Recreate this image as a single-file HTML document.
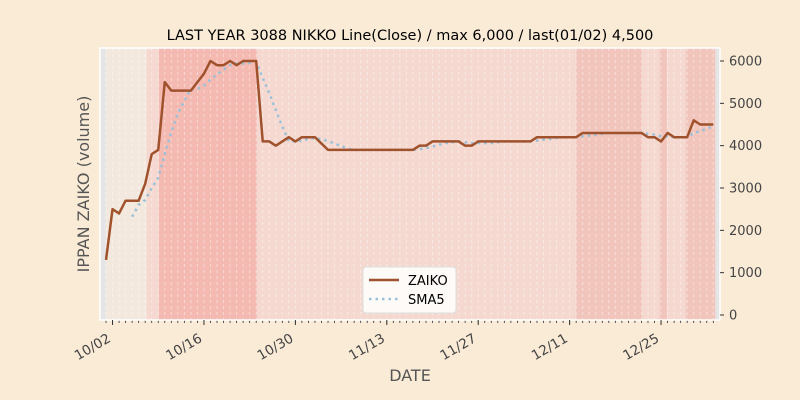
<!DOCTYPE html>
<html><head><meta charset="utf-8">
<style>
body{margin:0;background:#faebd7;}
svg{display:block;font-family:"DejaVu Sans","Liberation Sans",sans-serif;}
</style></head>
<body>
<svg id="chart" width="800" height="400" viewBox="0 0 800 400" xmlns="http://www.w3.org/2000/svg">
<rect x="0" y="0" width="800" height="400" fill="#faebd7"/>
<text x="410" y="40" text-anchor="middle" font-size="14.5" fill="#000">LAST YEAR 3088 NIKKO Line(Close) / max 6,000 / last(01/02) 4,500</text>
<g id="plot"></g>
<text x="0" y="0" transform="translate(89,184) rotate(-90)" text-anchor="middle" font-size="16" fill="#555">IPPAN ZAIKO (volume)</text>
<text x="410" y="381" text-anchor="middle" font-size="16" fill="#555">DATE</text>
<g>
<rect x="363" y="267" width="93" height="46" rx="3" fill="#fff" fill-opacity="0.85" stroke="#ddd"/>
<line x1="369" y1="280" x2="399" y2="280" stroke="#a0522d" stroke-width="2.5"/>
<text x="408" y="285" font-size="13" fill="#000">ZAIKO</text>
<line x1="369" y1="299" x2="399" y2="299" stroke="#9ac0d8" stroke-width="2.5" stroke-dasharray="2.5,4"/>
<text x="408" y="304" font-size="13" fill="#000">SMA5</text>
</g>
</svg>
<script>
const zaiko = [1300,2500,2400,2700,2700,2700,3100,3800,3900,5500,5300,5300,5300,5300,5500,5700,6000,5900,5900,6000,5900,6000,6000,6000,4100,4100,4000,4100,4200,4100,4200,4200,4200,4050,3900,3900,3900,3900,3900,3900,3900,3900,3900,3900,3900,3900,3900,3900,4000,4000,4100,4100,4100,4100,4100,4000,4000,4100,4100,4100,4100,4100,4100,4100,4100,4100,4200,4200,4200,4200,4200,4200,4200,4300,4300,4300,4300,4300,4300,4300,4300,4300,4300,4200,4200,4100,4300,4200,4200,4200,4600,4500,4500,4500];
const yTicks = [0,1000,2000,3000,4000,5000,6000];
const xTickIdx = [1,15,29,43,57,71,85];
const xTickLabels = ["10/02","10/16","10/30","11/13","11/27","12/11","12/25"];
const bandStarts = [0,6.2,8.1,23.1,72,82.1,84.8,85.9,88.8];
const bandEnds = [6.2,8.1,23.1,72,82.1,84.8,85.9,88.8,93.3];
const bandLevels = [0,1,3,1,2,1,2,1,2];

const NS="http://www.w3.org/2000/svg";
const L=100,R=720,T=48,B=320;
const x0=106, dx=6.53;
function xs(i){return x0+dx*i;}
function ys(v){return 315-(v/6000)*254;}
const plot=document.getElementById('plot');
function mk(tag,attrs,parent){const e=document.createElementNS(NS,tag);for(const k in attrs)e.setAttribute(k,attrs[k]);(parent||plot).appendChild(e);return e;}
const bandColors=["#f3e8dd","#f5d9d0","#f2c5bc","#f4b9b1"];
let e=mk('rect',{x:L,y:T,width:R-L,height:B-T,fill:'#e5e5e5'});


bandStarts.forEach((s,k)=>{
  const b=mk('rect',{x:xs(s),y:T,width:xs(bandEnds[k])-xs(s),height:B-T,fill:bandColors[bandLevels[k]]});
  
  
});
for(let i=0;i<zaiko.length;i++){
  const g=mk('line',{x1:xs(i),y1:T,x2:xs(i),y2:B,stroke:'#fff','stroke-opacity':0.45,'stroke-width':1,'stroke-dasharray':'3,3'});
  
  
  const t=mk('line',{x1:xs(i),y1:B,x2:xs(i),y2:B+3,stroke:'#333','stroke-width':0.8});
  
  
}
e=mk('rect',{x:L,y:T,width:R-L,height:B-T,fill:'none',stroke:'#fff','stroke-width':1.5});


yTicks.forEach(v=>{
  const t=mk('line',{x1:R,y1:ys(v),x2:R+4,y2:ys(v),stroke:'#333','stroke-width':1});
  
  
  const l=mk('text',{x:R+9,y:ys(v)+4.5,'font-size':13,fill:'#444'});
  l.textContent=String(v);
  
  
});
xTickIdx.forEach((i,k)=>{
  const t=mk('line',{x1:xs(i),y1:B,x2:xs(i),y2:B+5,stroke:'#333','stroke-width':1});
  
  
  const l=mk('text',{x:0,y:0,'font-size':13.5,fill:'#444','text-anchor':'end',transform:`translate(${xs(i)-1},${B+21}) rotate(-30)`});
  l.textContent=xTickLabels[k];
  
  
});
// SMA5 derived from the ZAIKO series
const sma=[];
for(let i=4;i<zaiko.length;i++){let s=0;for(let j=i-4;j<=i;j++)s+=zaiko[j];sma.push([i,s/5]);}
e=mk('polyline',{points:sma.map(p=>xs(p[0])+','+ys(p[1])).join(' '),fill:'none',stroke:'#9ac0d8','stroke-width':2.5,'stroke-dasharray':'2.5,4'});


e=mk('polyline',{points:zaiko.map((v,i)=>xs(i)+','+ys(v)).join(' '),fill:'none',stroke:'#a0522d','stroke-width':2.5,'stroke-linejoin':'round'});


</script>
</body></html>
